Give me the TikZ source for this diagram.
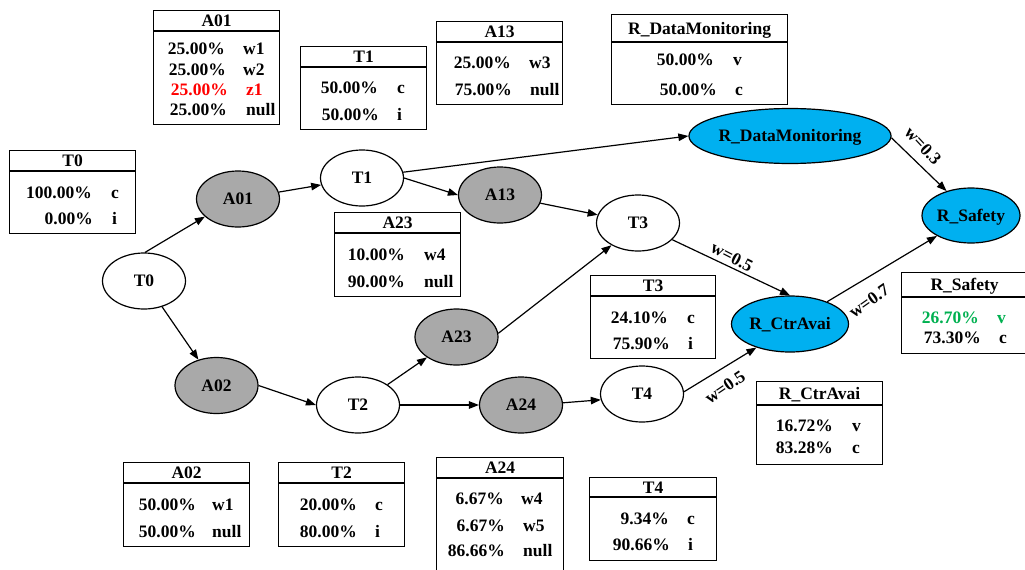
\documentclass[tikz,border=0pt]{standalone}
\usepackage{fontspec}
\setmainfont{Liberation Serif}
\usetikzlibrary{shapes.geometric,arrows.meta}

\definecolor{riskblue}{HTML}{00B0F0}
\definecolor{actgray}{HTML}{A9A9A9}
\definecolor{hired}{HTML}{FF0000}
\definecolor{higreen}{HTML}{00B050}

\tikzset{
  every node/.style={font=\fontsize{17.5}{20}\selectfont\bfseries},
  state/.style={ellipse, draw, line width=1.2pt, inner sep=0pt,
    text height=11.8pt, text depth=0pt, fill=white},
  tnode/.style={state, minimum width=83pt, minimum height=56pt},
  anode/.style={state, fill=actgray, minimum width=83pt, minimum height=56pt},
  rnode/.style={state, fill=riskblue, minimum height=55pt},
  link/.style={line width=1.2pt, -{Triangle[length=10pt,width=7.5pt]}},
  wlabel/.style={inner sep=0pt},
  tbox/.style={draw, line width=1.2pt, inner sep=0pt},
  pct/.style={anchor=base east, inner sep=0pt},
  val/.style={anchor=base west, inner sep=0pt},
  ttl/.style={anchor=base, inner sep=0pt},
}

% probability table: name, left x, top y, width, height, header height, title
\newcommand\probtable[7]{%
  \node[tbox, anchor=north west, minimum width=#4pt, minimum height=#5pt] (#1) at (#2,#3) {};
  \draw[line width=1.2pt] ([yshift=-#6pt]#1.north west) -- ([yshift=-#6pt]#1.north east);
  \node[ttl] (#1-title) at ([yshift={-(#6*0.5+6)*1pt}]#1.north) {#7};
}
% one row of a table: name, y, right x of value, left x of state, value, state, colour
\newcommand\probrow[7]{%
  \node[pct, text=#7] (#1-p) at (#3,#2+6) {#5};
  \node[val, text=#7] (#1-s) at (#4,#2+6) {#6};
}

\begin{document}
\begin{tikzpicture}[x=1pt, y=-1pt]
\useasboundingbox (0,0) rectangle (1025,570);
\clip (0,0) rectangle (1025,570);

% ---------- network nodes ----------
\node[tnode] (T0)  at (144,281)   {T0};
\node[anode] (A01) at (238,199)   {A01};
\node[tnode] (T1)  at (362,178)   {T1};
\node[anode] (A13) at (500,195)   {A13};
\node[tnode] (T3)  at (638,223)   {T3};
\node[anode] (A02) at (216.5,385.5) {A02};
\node[tnode] (T2)  at (358,405)   {T2};
\node[anode] (A23) at (456.5,337) {A23};
\node[anode] (A24) at (521,405)   {A24};
\node[tnode] (T4)  at (642,394)   {T4};
\node[rnode, minimum width=193pt] (RDM) at (790,136) {R\_DataMonitoring};
\node[rnode, minimum width=117pt, minimum height=56pt] (RCA) at (790,324) {R\_CtrAvai};
\node[rnode, minimum width=98pt] (RS) at (971,215.5) {R\_Safety};

% ---------- connectors ----------
\draw[link] (T0.88) -- (A01.208);
\draw[link] (T0.-55) -- (A02.125);
\draw[link] (A01) -- (T1);
\draw[link] (T1.east) -- (A13.west);
\draw[link] (T1.8) -- (RDM.west);
\draw[link] (A13) -- (T3);
\draw[link] (A02.east) -- (T2.west);
\draw[link] (T2) -- (A23);
\draw[link] (T2.east) -- (A24.west);
\draw[link] (A23.5) -- (T3.220);
\draw[link] (A24.3) -- (T4.188);
\draw[link] (T3.-26) -- (RCA.north);
\draw[link] (T4.3) -- (RCA.215);
\draw[link] (RDM.-1) -- (RS.135);
\draw[link] (RCA) -- (RS);

\node[wlabel, rotate=-27] (w1) at (732,257) {w=0.5};
\node[wlabel, rotate=34]  (w2) at (725,387) {w=0.5};
\node[wlabel, rotate=-47] (w3) at (923,146) {w=0.3};
\node[wlabel, rotate=35]  (w4) at (869,301) {w=0.7};

% ---------- probability tables ----------
\probtable{tA01}{153}{10}{126}{114}{21}{A01}
\probrow{tA01r1}{48}{225}{243}{25.00\%}{w1}{black}
\probrow{tA01r2}{69}{226}{243}{25.00\%}{w2}{black}
\probrow{tA01r3}{89}{228}{246}{25.00\%}{z1}{hired}
\probrow{tA01r4}{109}{227}{246}{25.00\%}{null}{black}

\probtable{tT1}{300}{46}{126}{83}{21}{T1}
\probrow{tT1r1}{87}{378}{397}{50.00\%}{c}{black}
\probrow{tT1r2}{114}{379}{397}{50.00\%}{i}{black}

\probtable{tT0}{9}{150}{126}{83}{21}{T0}
\probrow{tT0r1}{192}{92}{111}{100.00\%}{c}{black}
\probrow{tT0r2}{218}{93}{112}{0.00\%}{i}{black}

\probtable{tA13}{436}{21}{126}{83}{21}{A13}
\probrow{tA13r1}{62}{511}{529}{25.00\%}{w3}{black}
\probrow{tA13r2}{89}{512}{530}{75.00\%}{null}{black}

\probtable{tRDM}{611}{14}{176}{90}{28}{R\_DataMonitoring}
\probrow{tRDMr1}{59}{714}{733}{50.00\%}{v}{black}
\probrow{tRDMr2}{89}{717}{735}{50.00\%}{c}{black}

\probtable{tA23}{334}{212}{126}{84}{21}{A23}
\probrow{tA23r1}{254}{405}{424}{10.00\%}{w4}{black}
\probrow{tA23r2}{281}{405}{424}{90.00\%}{null}{black}

\probtable{tT3}{590}{275}{125}{83}{21}{T3}
\probrow{tT3r1}{317}{668}{687}{24.10\%}{c}{black}
\probrow{tT3r2}{343}{670}{688}{75.90\%}{i}{black}

\probtable{tRS}{901}{272}{126}{81}{25}{R\_Safety}
\probrow{tRSr1}{317}{979}{997}{26.70\%}{v}{higreen}
\probrow{tRSr2}{337}{981}{999}{73.30\%}{c}{black}

\probtable{tRCA}{756}{381}{126}{83}{24}{R\_CtrAvai}
\probrow{tRCAr1}{425}{833}{852}{16.72\%}{v}{black}
\probrow{tRCAr2}{447}{833}{852}{83.28\%}{c}{black}

\probtable{tT4}{589}{477}{127}{83}{20}{T4}
\probrow{tT4r1}{518}{669}{687}{9.34\%}{c}{black}
\probrow{tT4r2}{544}{670}{688}{90.66\%}{i}{black}

\probtable{tA02}{123}{462}{126}{84}{21}{A02}
\probrow{tA02r1}{504}{196}{212}{50.00\%}{w1}{black}
\probrow{tA02r2}{531}{196}{212}{50.00\%}{null}{black}

\probtable{tT2}{278}{462}{126}{84}{21}{T2}
\probrow{tT2r1}{504}{357}{375}{20.00\%}{c}{black}
\probrow{tT2r2}{531}{357}{375}{80.00\%}{i}{black}

\probtable{tA24}{436}{457}{127}{125}{21}{A24}
\probrow{tA24r1}{498}{504}{521}{6.67\%}{w4}{black}
\probrow{tA24r2}{525}{505}{523}{6.67\%}{w5}{black}
\probrow{tA24r3}{550}{505}{523}{86.66\%}{null}{black}

\end{tikzpicture}
\end{document}
